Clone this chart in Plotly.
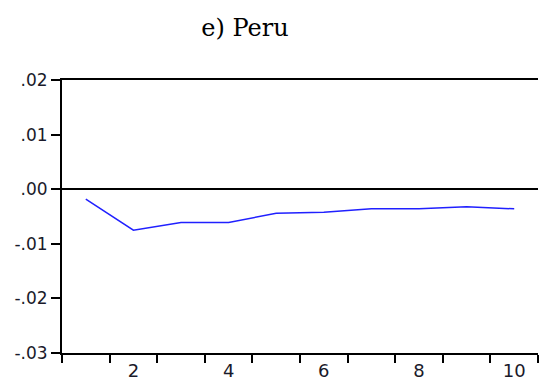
import plotly.graph_objects as go

periods = [1, 2, 3, 4, 5, 6, 7, 8, 9, 10]
response = [-0.0018, -0.0075, -0.0061, -0.0061, -0.0044, -0.0042, -0.0036, -0.0036, -0.0032, -0.0036]
y_tickvals = [0.02, 0.01, 0.0, -0.01, -0.02, -0.03]
y_ticktext = [".02", ".01", ".00", "-.01", "-.02", "-.03"]
x_tickvals = [2, 4, 6, 8, 10]
x_ticktext = ["2", "4", "6", "8", "10"]
title_text = "e) Peru"

W, H = 539, 383
fig = go.Figure()
fig.add_trace(go.Scatter(x=periods, y=response, mode="lines",
                         line=dict(color="#2020ff", width=1.5), showlegend=False))

fig.update_layout(
    width=W, height=H,
    margin=dict(l=62, r=1, t=80, b=30, pad=0, autoexpand=False),
    paper_bgcolor="white", plot_bgcolor="white",
    title=dict(text=title_text, x=245 / W, xref="container", xanchor="center",
               y=1 - 28 / H, yref="container", yanchor="middle", automargin=False,
               font=dict(family="DejaVu Serif", size=24, color="black")),
    xaxis=dict(range=[0.5, 10.5], tickvals=x_tickvals, ticktext=x_ticktext, ticks="",
               automargin=False,
               showgrid=False, zeroline=False, showline=True, linecolor="black", linewidth=2,
               mirror=True,
               minor=dict(tick0=1.5, dtick=1, ticks="outside", ticklen=8, tickwidth=1.5,
                          tickcolor="black", showgrid=False),
               tickfont=dict(family="DejaVu Sans", size=18, color="#1a1a2a")),
    yaxis=dict(range=[-0.03, 0.02], tickvals=y_tickvals, ticktext=y_ticktext,
               automargin=False,
               ticks="outside", ticklen=9, tickwidth=1.5, tickcolor="black",
               showgrid=False, zeroline=True, zerolinecolor="black", zerolinewidth=1.5,
               showline=True, linecolor="black", linewidth=2, mirror=False,
               tickfont=dict(family="DejaVu Sans", size=17, color="#1a1a2a")),
)

fig.write_html("out.html", config={"displayModeBar": False},
               post_script="document.body.style.margin='0';document.body.style.overflow='hidden';")
